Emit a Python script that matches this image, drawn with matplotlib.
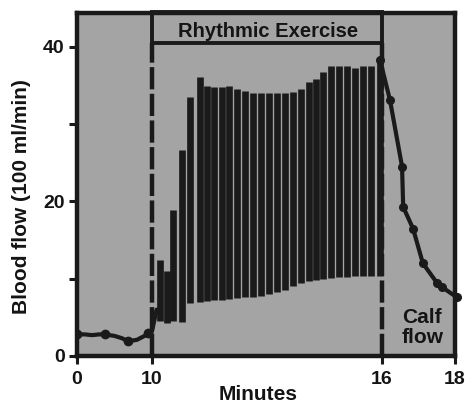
import numpy as np
import matplotlib
matplotlib.use('Agg')
import matplotlib.pyplot as plt
from matplotlib.patches import Rectangle

plt.rcParams['font.family'] = ['Liberation Sans', 'DejaVu Sans']
plt.rcParams['font.weight'] = 'bold'

## data
base_t = [0, 1, 2, 3, 3.7, 5, 6, 6.8, 8, 9, 9.6, 10.0, 10.12]
base_v = [2.8, 2.8, 2.7, 2.8, 2.8, 2.6, 2.3, 1.9, 2.1, 2.6, 3.0, 3.2, 6.0]
base_mark_t = [0, 3.7, 6.8, 9.5]
base_mark_v = [2.8, 2.8, 1.9, 3.0]

cycle_t = [10.21, 10.39, 10.55, 10.78, 10.99, 11.25, 11.43, 11.62, 11.83, 12.01,
           12.22, 12.43, 12.64, 12.84, 13.05, 13.26, 13.47, 13.68, 13.89, 14.10,
           14.28, 14.46, 14.67, 14.88, 15.09, 15.30, 15.50, 15.71, 15.95]
cycle_hi = [12.4, 11.0, 18.9, 26.7, 33.5, 36.1, 35.0, 34.8, 34.8, 35.0,
            34.5, 34.3, 34.0, 34.0, 34.0, 34.0, 34.0, 34.2, 34.5, 35.5,
            35.8, 36.8, 37.5, 37.5, 37.5, 37.3, 37.5, 37.5, 38.5]
cycle_lo = [4.5, 4.3, 4.5, 4.4, 6.9, 7.0, 7.1, 7.2, 7.3, 7.4,
            7.5, 7.6, 7.7, 7.8, 8.0, 8.3, 8.6, 9.0, 9.4, 9.7,
            9.9, 10.0, 10.1, 10.2, 10.2, 10.3, 10.3, 10.3, 10.4]

dec_t = [15.95, 16.22, 16.55, 16.58, 16.85, 17.12, 17.5, 17.65, 18.05]
dec_v = [38.3, 33.1, 24.5, 19.3, 16.5, 12.0, 9.5, 8.9, 7.6]

x_ticks = [0, 10, 16, 18]
y_ticks = [0, 10, 20, 30, 40]
y_labels = ['0', '', '20', '', '40']

## broken time axis: 0-10 squeezed, 10-18 stretched
def fwd(t):
    t = np.asarray(t, dtype=float)
    return np.where(t < 10, t * 7.5,
                    np.where(t < 16, 75 + (t - 10) * 38.33, 305 + (t - 16) * 36.5))

def inv(p):
    p = np.asarray(p, dtype=float)
    return np.where(p < 75, p / 7.5,
                    np.where(p < 305, 10 + (p - 75) / 38.33, 16 + (p - 305) / 36.5))

ink = '#1a1a1a'
txt = '#141414'
bg = '#a4a4a4'

fig = plt.figure(figsize=(4.69, 4.07), dpi=100)
ax = fig.add_axes([77 / 469, 1 - 356 / 407, 378 / 469, 343 / 407])
ax.set_facecolor(bg)
ax.set_xscale('function', functions=(fwd, inv))
ax.set_xlim(0, 18)
ax.set_ylim(0, 44.4)

ax.plot(base_t, base_v, color=ink, lw=3, solid_capstyle='round')
ax.plot(base_mark_t, base_mark_v, 'o', color=ink, ms=6)
ax.vlines(cycle_t, cycle_lo, cycle_hi, color=ink, lw=4.8)
ax.plot(dec_t, dec_v, color=ink, lw=3, marker='o', ms=5.5, clip_on=False)

# dashed lines marking the exercise period
for xv in [10, 16]:
    ax.plot([xv, xv], [0, 40.5], color=ink, lw=3.2, ls=(0, (5, 1)))

# exercise label box
ax.add_patch(Rectangle((10, 40.5), 6, 4.0, facecolor='none', edgecolor=ink,
                       lw=2.8, clip_on=False))
ax.text(13.03, 42.05, 'Rhythmic Exercise', ha='center', va='center',
        fontsize=14.5, fontweight='bold', color=txt)
ax.text(17.1, 3.7, 'Calf\nflow', ha='center', va='center', fontsize=15,
        fontweight='bold', color=txt, linespacing=1.1)

for s in ax.spines.values():
    s.set_linewidth(3.2)
    s.set_color(ink)

ax.set_xticks(x_ticks)
ax.set_xticklabels([str(v) for v in x_ticks])
ax.set_yticks(y_ticks)
ax.set_yticklabels(y_labels)
ax.tick_params(axis='both', direction='out', length=6, width=2.2, color=ink,
               labelsize=14, labelcolor=txt, pad=3)
ax.tick_params(axis='x', pad=5)

ax.set_xlabel('Minutes', fontsize=15, fontweight='bold', color=txt)
ax.set_ylabel('Blood flow (100 ml/min)', fontsize=15, fontweight='bold', color=txt)
ax.xaxis.set_label_coords(0.479, -0.085)
ax.yaxis.set_label_coords(-0.122, 0.466)

fig.savefig('out.png', dpi=100, facecolor='white')
